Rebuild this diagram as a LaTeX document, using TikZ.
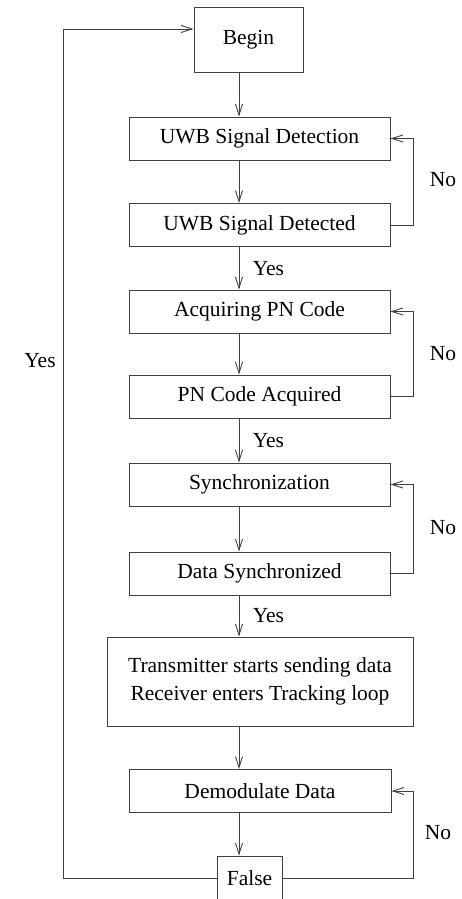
\documentclass[tikz,border=0pt]{standalone}
\usepackage{fontspec}
\setmainfont{Liberation Serif}
\usetikzlibrary{arrows.meta}
\tikzset{
  stagebox/.style={draw=black!75, line width=0.9pt, inner sep=0pt, minimum height=43pt, minimum width=261pt},
  flow/.style={draw=black!75, line width=0.9pt, -{Straight Barb[length=11pt,width=7pt]}},
  loopline/.style={draw=black!75, line width=0.9pt}
}

\begin{document}
\begin{tikzpicture}[x=1pt,y=-1pt,font=\fontsize{21.5}{28}\selectfont]
        \clip (0,0) rectangle (461,899);
        \useasboundingbox (0,0) rectangle (461,899);
        \coordinate (col) at (239,0); % the arrows down the middle
        \node[stagebox,minimum width=109pt,minimum height=65pt] (begin) at (248.5,39.5) {Begin};
        \node[stagebox] (detect) at (259.5,138.5) {UWB Signal Detection};
        \node[stagebox] (detected) at (259.5,225) {UWB Signal Detected};
        \node[stagebox] (acquire) at (259.5,311.5) {Acquiring PN Code};
        \node[stagebox] (acquired) at (259.5,396.5) {PN Code Acquired};
        \node[stagebox] (sync) at (259.5,484.5) {Synchronization};
        \node[stagebox] (synced) at (259.5,573.5) {Data Synchronized};
        \node[stagebox,minimum width=306pt,minimum height=89pt,align=center] (track) at (260,681.5) {Transmitter starts sending data\\Receiver enters Tracking loop};
        \node[stagebox,minimum width=262pt] (demod) at (260,791) {Demodulate Data};
        \node[stagebox,minimum width=65pt,minimum height=44pt] (false) at (249.5,878) {False};

        % straight down
        \draw[flow] (begin.south -| col) -- (detect.north -| col);
        \draw[flow] (detect.south -| col) -- (detected.north -| col);
        \draw[flow] (detected.south -| col) -- node[right=10pt]{Yes} (acquire.north -| col);
        \draw[flow] (acquire.south -| col) -- (acquired.north -| col);
        \draw[flow] (acquired.south -| col) -- node[right=10pt]{Yes} (sync.north -| col);
        \draw[flow] (sync.south -| col) -- (synced.north -| col);
        \draw[flow] (synced.south -| col) -- node[right=10pt]{Yes} (track.north -| col);
        \draw[flow] (track.south -| col) -- (demod.north -| col);
        \draw[flow] (demod.south -| col) -- (false.north -| col);

        % retry loops on the right
        \draw[flow] (detected.east) -- (413,225) -- (413,138.5) -- (detect.east);
        \draw[flow] (acquired.east) -- (413,396.5) -- (413,311.5) -- (acquire.east);
        \draw[flow] (synced.east) -- (413,573.5) -- (413,484.5) -- (sync.east);
        \draw[flow] (false.east) -- (413,878) -- (413,791) -- (demod.east);
        \node at (443,180) {No};
        \node at (443,354) {No};
        \node at (443,528) {No};
        \node at (438,833) {No};

        % back to the start
        \draw[flow] (false.west) -- (63,878) -- (63,29) -- (begin.west |- 0,29);
        \node at (40,361) {Yes};
    \end{tikzpicture}
\end{document}
